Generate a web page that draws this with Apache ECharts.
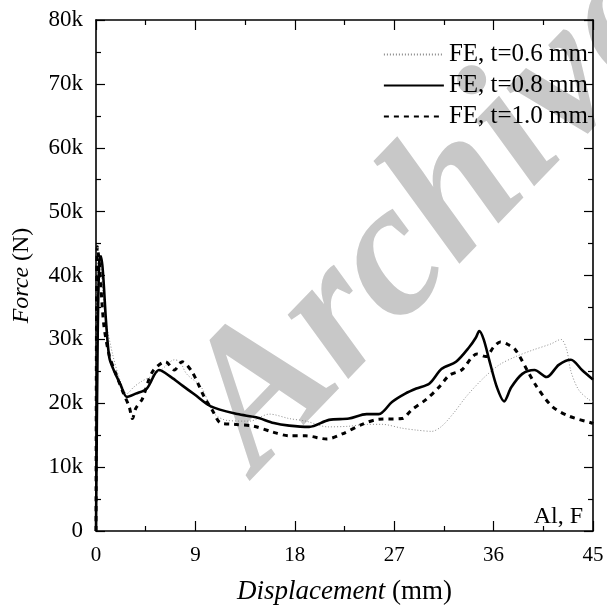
<!DOCTYPE html>
<html><head><meta charset="utf-8">
<script src="https://cdn.jsdelivr.net/npm/echarts@6/dist/echarts.min.js"></script>
<style>html,body{margin:0;padding:0;background:#fff}#c{width:607px;height:610px}</style>
</head><body><div id="c"></div>
<script>
const seriesNames = ['FE, t=0.6 mm', 'FE, t=0.8 mm', 'FE, t=1.0 mm'];
const xTicks = [0, 9, 18, 27, 36, 45];
const yTicks = [0, 10000, 20000, 30000, 40000, 50000, 60000, 70000, 80000];
const t06 = [[0,0],[0.08,30000],[0.2,42500],[0.4,42000],[0.8,34000],[1.5,27700],[2.2,23500],[2.8,21500],[3.4,22500],[4.1,23400],[5.0,24200],[5.9,25200],[7.1,26800],[7.6,26500],[8.2,24600],[9.5,22600],[10.7,18400],[11.9,17300],[13.9,17200],[15.7,18300],[17.5,17600],[19.0,17200],[21.0,16300],[22.9,16400],[24.5,16700],[25.9,16700],[27.7,16100],[29.0,15800],[30.4,15600],[31.3,16400],[32.4,18500],[33.5,21000],[35.0,23800],[36.5,26000],[38.0,27300],[39.5,28300],[41.2,29300],[42.1,30000],[42.6,28500],[43.0,25000],[43.7,22100],[44.6,20600],[45,20300]];
const t08 = [[0,0],[0.15,30000],[0.3,42500],[0.45,43000],[0.65,40000],[0.9,33000],[1.2,27200],[1.6,25200],[2.2,23000],[2.8,21000],[3.6,21500],[4.6,22300],[5.7,25200],[6.8,24100],[7.8,22800],[8.9,21400],[10.4,19500],[12.8,18300],[14.5,17800],[16.1,16900],[17.5,16500],[19.3,16300],[21.1,17400],[22.9,17600],[24.5,18300],[25.6,18300],[26.8,20200],[28.0,21500],[29.0,22300],[30.2,23100],[31.3,25400],[32.6,26500],[33.8,28800],[34.4,30300],[34.7,31300],[35.1,30000],[35.6,26800],[36.3,22500],[36.95,20300],[37.6,22500],[38.6,24600],[39.7,25200],[40.8,24100],[41.9,26000],[43.0,26800],[44.0,25200],[45,23700]];
const t10 = [[0,0],[0.05,35000],[0.12,44500],[0.3,42000],[0.7,32400],[1.2,27500],[1.8,24600],[2.5,21500],[3.0,19500],[3.3,17600],[3.6,19200],[4.2,20700],[5.1,24900],[6.3,26500],[7.1,25200],[7.8,26500],[8.7,24900],[9.8,21000],[10.5,19000],[11.3,16900],[12.5,16700],[14.3,16400],[16.0,15500],[17.5,14900],[19.0,14900],[20.9,14400],[22.3,15200],[24.1,16700],[25.6,17500],[27.7,17600],[28.6,19000],[29.9,20600],[31.1,22600],[32.0,24400],[33.1,25200],[34.5,27700],[35.3,27300],[36.0,28800],[36.6,29600],[37.3,29200],[38.0,28300],[39.0,25300],[39.9,22600],[41.3,19500],[42.8,18000],[44.9,16900],[45,16800]];

const FONT = '"Liberation Serif","Times New Roman",serif';
const chart = echarts.init(document.getElementById('c'));
const grid = {left: 96, right: 14, top: 20, bottom: 75};
const baseAxisLine = {show: true, onZero: false, lineStyle: {color: '#000', width: 1.6}};
function xAx(pos, labels) {
  return {
    type: 'value', position: pos, min: xTicks[0], max: xTicks[xTicks.length-1], interval: xTicks[1]-xTicks[0],
    axisLine: baseAxisLine,
    axisTick: {show: true, inside: true, length: 10, lineStyle: {color: '#000', width: 1.2}},
    minorTick: {show: true, splitNumber: 2, length: 5, lineStyle: {color: '#000', width: 1.2}},
    axisLabel: {show: labels, color: '#000', fontFamily: FONT, fontSize: 21, margin: 14},
    splitLine: {show: false},
    name: labels ? '{i|Displacement} (mm)' : '',
    nameLocation: 'middle', nameGap: 47,
    nameTextStyle: {color: '#000', fontFamily: FONT, fontSize: 27,
      rich: {i: {fontStyle: 'italic', fontFamily: FONT, fontSize: 27, color: '#000'}}}
  };
}
function yAx(pos, labels) {
  return {
    type: 'value', position: pos, min: yTicks[0], max: yTicks[yTicks.length-1], interval: yTicks[1]-yTicks[0],
    axisLine: baseAxisLine,
    axisTick: {show: true, inside: true, length: 9, lineStyle: {color: '#000', width: 1.2}},
    minorTick: {show: true, splitNumber: 2, length: 5, lineStyle: {color: '#000', width: 1.2}},
    axisLabel: {show: labels, color: '#000', fontFamily: FONT, fontSize: 23, margin: 13,
      formatter: v => v === 0 ? '0' : (v/1000) + 'k'},
    splitLine: {show: false},
    name: labels ? '{i|Force} (N)' : '',
    nameLocation: 'middle', nameGap: 62, nameRotate: 90,
    nameTextStyle: {color: '#000', fontFamily: FONT, fontSize: 24,
      rich: {i: {fontStyle: 'italic', fontFamily: FONT, fontSize: 24, color: '#000'}}}
  };
}
chart.setOption({
  animation: false,
  backgroundColor: '#fff',
  grid: grid,
  xAxis: [xAx('bottom', true), xAx('top', false)],
  yAxis: [yAx('left', true), yAx('right', false)],
  legend: {
    right: 14, top: 37, orient: 'vertical', itemWidth: 60, itemHeight: 14, itemGap: 6,
    itemStyle: {opacity: 0},
    textStyle: {color: '#000', fontFamily: FONT, fontSize: 25, lineHeight: 22, padding: [0,0,0,0]},
    data: seriesNames
  },
  graphic: [
    {type: 'text', z: -10, x: 290, y: 506, rotation: 46 * Math.PI / 180,
      style: {text: 'Archive', font: 'italic bold 192px ' + FONT, fill: '#c8c8c8',
        textAlign: 'left', textVerticalAlign: 'bottom', verticalAlign: 'bottom'}},
    {type: 'text', right: 24, top: 505,
      style: {text: 'Al, F', font: '24px ' + FONT, fill: '#000'}}
  ],
  series: [
    {name: seriesNames[0], type: 'line', data: t06, symbol: 'none', smooth: 0.3, z: 3,
      lineStyle: {color: '#8a8a8a', width: 1, type: [1, 2]}, itemStyle: {color: '#8a8a8a'}},
    {name: seriesNames[1], type: 'line', data: t08, symbol: 'none', smooth: 0.3, z: 4,
      lineStyle: {color: '#000', width: 2.6, type: 'solid'}, itemStyle: {color: '#000'}},
    {name: seriesNames[2], type: 'line', data: t10, symbol: 'none', smooth: 0.3, z: 5,
      lineStyle: {color: '#000', width: 3, type: [5, 5]}, itemStyle: {color: '#000'}}
  ]
});
</script></body></html>
